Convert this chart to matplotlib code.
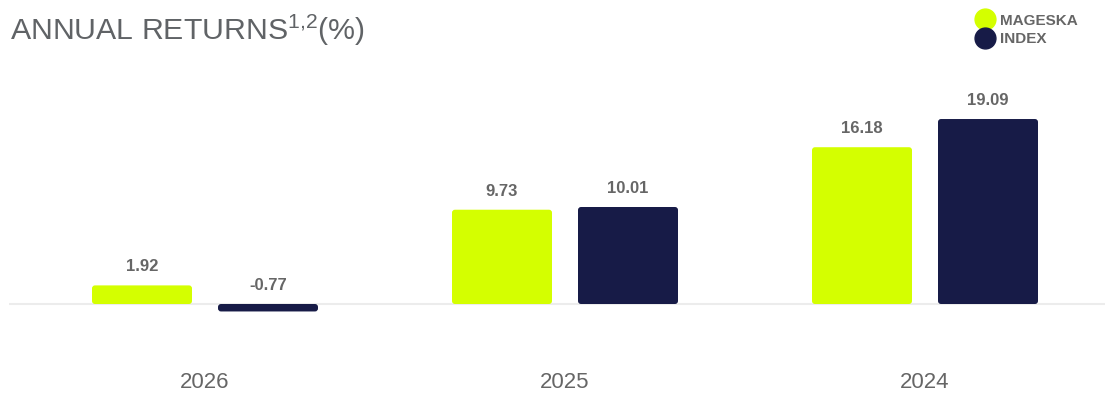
import numpy as np
import matplotlib
matplotlib.use("Agg")
import matplotlib.pyplot as plt
from matplotlib.lines import Line2D
from matplotlib.patches import FancyBboxPatch

plt.rcParams['font.family'] = ['Liberation Sans', 'DejaVu Sans']
plt.rcParams['mathtext.fontset'] = 'custom'
plt.rcParams['mathtext.rm'] = 'Liberation Sans'

years = ['2026', '2025', '2024']
series_names = ['MAGESKA', 'INDEX']
mageska = [1.92, 9.73, 16.18]
index_vals = [-0.77, 10.01, 19.09]
colors = ['#d4ff00', '#171b47']

W, H = 1107, 395
fig = plt.figure(figsize=(W / 100, H / 100), dpi=100)

# axes placed in pixel coords
x0, x1 = 9, 1105
y_top, y_bot = 60, 345
ax = fig.add_axes([x0 / W, 1 - y_bot / H, (x1 - x0) / W, (y_bot - y_top) / H])
px_x = 360.0
px_y = 9.69
ax.set_xlim((x0 - 205) / px_x, (x1 - 205) / px_x)
ax.set_ylim(-(y_bot - 304) / px_y, (304 - y_top) / px_y)
ax.axis('off')

ax.axhline(0, color='#ececec', lw=1.5, zorder=1)

xs = np.arange(len(years))
bw = 100 / px_x
off = 63 / px_x
r = 3 / px_x
for vals, col, sgn in [(mageska, colors[0], -1), (index_vals, colors[1], 1)]:
    for x, v in zip(xs, vals):
        bx = x + sgn * off - bw / 2
        p = FancyBboxPatch((bx, min(v, 0)), bw, abs(v),
                           boxstyle=f"round,pad=0,rounding_size={r}",
                           mutation_aspect=px_x / px_y,
                           fc=col, ec='none', zorder=2)
        ax.add_patch(p)
        ax.annotate(f"{v:.2f}", (x + sgn * off, max(v, 0)), xytext=(0, 8),
                    textcoords='offset points', ha='center', va='bottom',
                    fontsize=12, fontweight='bold', color='#666666')

for x, y in zip(xs, years):
    fig.text((205 + x * px_x) / W, 1 - 383 / H, y, ha='center', va='center',
             fontsize=16, color='#666666')

fig.text(10 / W, 1 - 40 / H, r"ANNUAL RETURNS$^{\mathrm{1{,}2}}$(%)", ha='left',
         va='baseline', fontsize=21.8, color='#606366')

handles = [Line2D([], [], ls='none', marker='o', markersize=15, color=c)
           for c in colors]
fig.legend(handles, series_names, loc='upper left',
           bbox_to_anchor=(966 / W, 1 - 6 / H), frameon=False,
           prop={'weight': 'bold', 'size': 11}, labelcolor='#666666',
           handletextpad=0.2, labelspacing=0.3, handlelength=1.5,
           borderpad=0)

fig.savefig('out.png', dpi=100)
